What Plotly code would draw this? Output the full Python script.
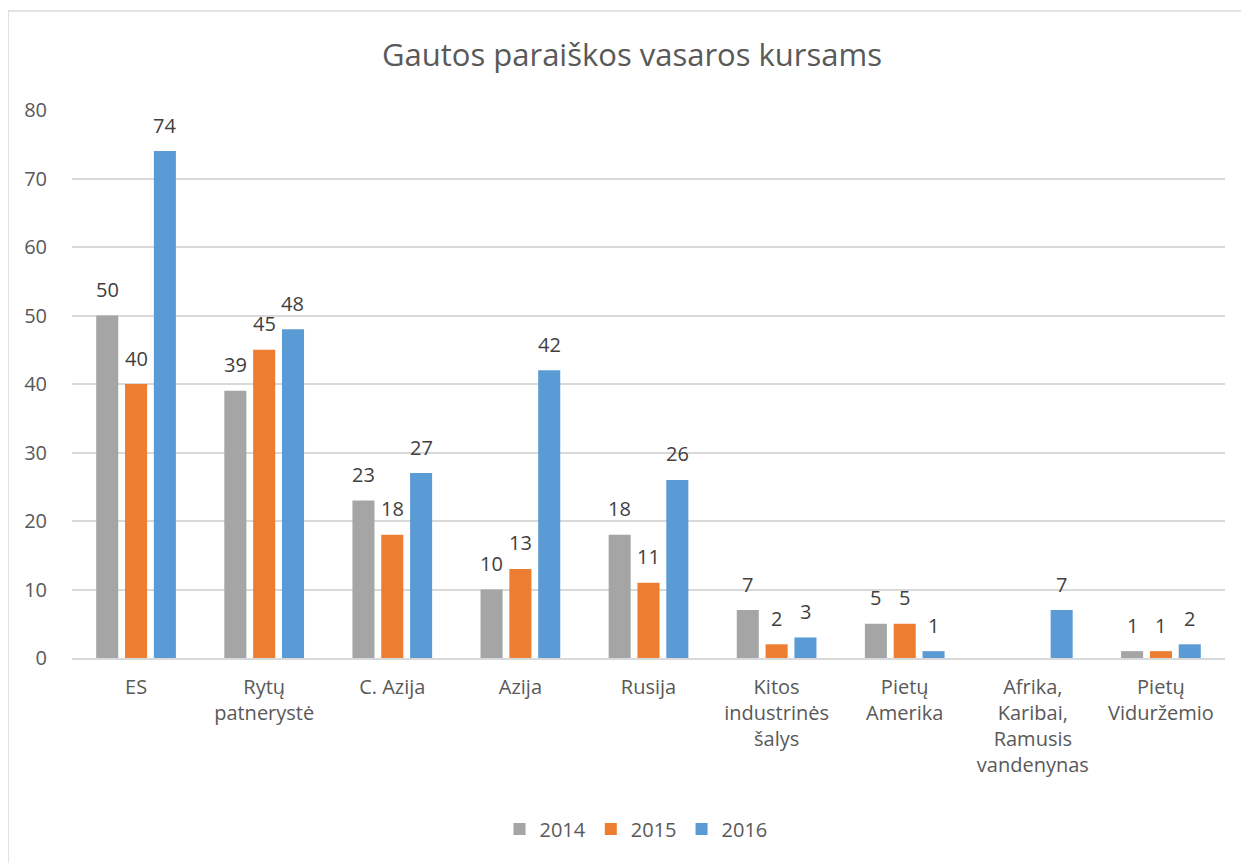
import plotly.graph_objects as go

categories = ["ES", "Rytų<br>patnerystė", "C. Azija", "Azija", "Rusija",
              "Kitos<br>industrinės<br>šalys", "Pietų<br>Amerika",
              "Afrika,<br>Karibai,<br>Ramusis<br>vandenynas", "Pietų<br>Viduržemio"]
series_names = ["2014", "2015", "2016"]
values_2014 = [50, 39, 23, 10, 18, 7, 5, None, 1]
values_2015 = [40, 45, 18, 13, 11, 2, 5, None, 1]
values_2016 = [74, 48, 27, 42, 26, 3, 1, 7, 2]
colors = ["#a5a5a5", "#ed7d31", "#5b9bd5"]
y_ticks = [0, 10, 20, 30, 40, 50, 60, 70, 80]

font_family = "Open Sans, Liberation Sans, sans-serif"
text_color = "#595959"
label_color = "#404040"

# page body has an 8px margin -> compensate
L, R, T, B = 64, 32, 102, 213
W, H = 1249, 863
plot_w = W - L - R
plot_h = H - T - B
n_cat = len(categories)
bargap = 0.325
bargroupgap = 0.235
slot_px = plot_w / n_cat * (1 - bargap) / 3

fig = go.Figure()
all_series = [values_2014, values_2015, values_2016]
for name, vals, col in zip(series_names, all_series, colors):
    fig.add_trace(go.Bar(
        x=categories, y=vals, name=name,
        marker=dict(color=col, line=dict(width=0)),
    ))

annotations = []
for i, vals in enumerate(all_series):
    for cat, v in zip(categories, vals):
        if v is None:
            continue
        annotations.append(dict(
            x=cat, y=v, xref="x", yref="y", text=str(v), showarrow=False,
            xshift=(i - 1) * slot_px, yshift=26, yanchor="middle", xanchor="center",
            font=dict(size=20, color=label_color, family=font_family),
        ))

fig.update_layout(
    width=W, height=H,
    margin=dict(l=L, r=R, t=T, b=B, autoexpand=False),
    paper_bgcolor="white", plot_bgcolor="white",
    barmode="group", bargap=bargap, bargroupgap=bargroupgap,
    title=dict(text="Gautos paraiškos vasaros kursams", x=(632 - 8) / W,
               xanchor="center", y=1 - 47 / H, yanchor="middle",
               font=dict(size=31, color=text_color, family=font_family)),
    font=dict(family=font_family, color=text_color),
    xaxis=dict(showgrid=False, showline=True, linecolor="#d9d9d9", linewidth=1.5,
               ticks="", tickfont=dict(size=20, color=text_color), tickangle=0,
               ticklabelstandoff=10),
    yaxis=dict(range=[0, 80], tickvals=y_ticks, showgrid=True, gridcolor="#d9d9d9",
               gridwidth=1.5, zeroline=False, showline=False, automargin=False,
               ticks="outside", ticklen=20, tickcolor="rgba(0,0,0,0)",
               tickfont=dict(size=20, color=text_color)),
    legend=dict(orientation="h", x=(636 - 8 - L) / plot_w, xanchor="center",
                y=(H - B - 821) / plot_h, yanchor="middle",
                font=dict(size=20, color=text_color), itemwidth=30, traceorder="normal"),
    annotations=annotations,
    showlegend=True,
)
fig.add_shape(type="rect", xref="paper", yref="paper",
              x0=(0 - L) / plot_w, x1=(W + 10 - L) / plot_w,
              y0=(H - B - H - 20) / plot_h, y1=1 + (T - 3) / plot_h,
              line=dict(color="#d9d9d9", width=1.5), fillcolor="rgba(0,0,0,0)", layer="below")

fig.write_html("out.html")
